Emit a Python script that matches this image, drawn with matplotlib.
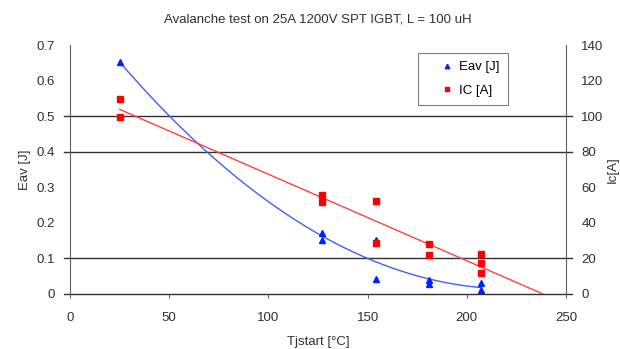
import numpy as np
import matplotlib
matplotlib.use("Agg")
from matplotlib import pyplot as plt

plt.rcParams['font.family'] = ['Liberation Sans', 'DejaVu Sans']

# measured data
t_eav = [25, 127, 127, 154, 154, 181, 181, 207, 207]
eav = [0.652, 0.171, 0.152, 0.152, 0.042, 0.039, 0.028, 0.031, 0.011]

t_ic = [25, 25, 127, 127, 154, 154, 181, 181, 207, 207, 207]
ic = [109.6, 99.5, 55.6, 51.7, 52.3, 28.7, 28.1, 21.9, 22.5, 17.4, 11.8]

grid_eav = [0.0, 0.1, 0.4, 0.5]
eav_ticks = [0, 0.1, 0.2, 0.3, 0.4, 0.5, 0.6, 0.7]
ic_ticks = [0, 20, 40, 60, 80, 100, 120, 140]
x_ticks = [0, 50, 100, 150, 200, 250]

fs = 9.5
grey = '#606060'
txt = '#303030'

fig = plt.figure(figsize=(6.2, 3.49), dpi=100)
ax = fig.add_axes([0.113, 0.158, 0.8, 0.713])
ax2 = ax.twinx()

# trend lines: quadratic for Eav, linear for Ic (forecast until Ic = 0)
p2 = np.polyfit(t_eav, eav, 2)
xe = np.linspace(min(t_eav), max(t_eav), 100)
ax.plot(xe, np.polyval(p2, xe), color='#4060ff', lw=1.0, zorder=3)

p1 = np.polyfit(t_ic, ic, 1)
x0 = -p1[1] / p1[0]
xi = np.array([min(t_ic), x0])
ax2.plot(xi, np.polyval(p1, xi), color='#ff4040', lw=1.0, zorder=3)

h1, = ax.plot(t_eav, eav, '^', color='#0020ff', ms=4, ls='none', zorder=4, label='Eav [J]')
h2, = ax2.plot(t_ic, ic, 's', color='#ff0000', ms=4, ls='none', zorder=4, label='IC [A]')

for g in grid_eav:
    ax.axhline(g, xmin=-0.012, xmax=1.012, color='#303030', lw=1.0, clip_on=False, zorder=1)

ax.set_xlim(0, 250)
ax.set_ylim(0, 0.7)
ax2.set_ylim(0, 140)
ax.set_xticks(x_ticks)
ax.set_yticks(eav_ticks)
ax2.set_yticks(ic_ticks)
ax.set_yticklabels(['0', '0.1', '0.2', '0.3', '0.4', '0.5', '0.6', '0.7'])

for a in (ax, ax2):
    for s in a.spines.values():
        s.set_visible(False)
ax.spines['left'].set_visible(True)
ax.spines['left'].set_color(grey)
ax2.spines['right'].set_visible(True)
ax2.spines['right'].set_color(grey)

ax.tick_params(axis='y', length=0, pad=11, labelsize=fs, labelcolor=txt)
ax2.tick_params(axis='y', length=0, pad=11, labelsize=fs, labelcolor=txt)
ax.tick_params(axis='x', length=3, color=grey, pad=10, labelsize=fs, labelcolor=txt)

ax.set_xlabel('Tjstart [°C]', fontsize=fs, color=txt, labelpad=9)
ax.set_ylabel('Eav [J]', fontsize=fs, color=txt, labelpad=4)
ax2.set_ylabel('Ic[A]', fontsize=fs, color=txt, labelpad=2)
ax.set_title('Avalanche test on 25A 1200V SPT IGBT, L = 100 uH', fontsize=fs, color=txt, pad=16)

leg = ax2.legend(handles=[h1, h2], loc='upper left', bbox_to_anchor=(0.702, 0.968),
                 borderaxespad=0, fontsize=fs, frameon=True, fancybox=False,
                 handlelength=3.2, handletextpad=-0.7, borderpad=0.6,
                 labelspacing=0.85, markerscale=0.8)
leg.get_frame().set_edgecolor(grey)
leg.get_frame().set_linewidth(0.8)

fig.savefig('out.png', dpi=100)
